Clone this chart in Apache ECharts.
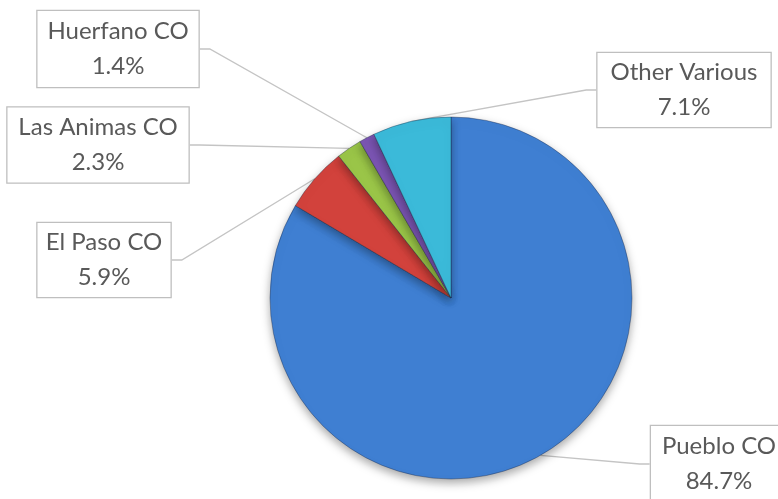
<!DOCTYPE html>
<html><head><meta charset="utf-8">
<script src="https://cdn.jsdelivr.net/npm/echarts@6/dist/echarts.min.js"></script>
<style>html,body{margin:0;padding:0;background:#fff}#c{width:778px;height:499px}</style>
</head><body><div id="c"></div>
<script>
const categories = ['Pueblo CO', 'El Paso CO', 'Las Animas CO', 'Huerfano CO', 'Other Various'];
const values = [84.7, 5.9, 2.3, 1.4, 7.1];
const colors = ['#3f7fd2', '#d2423c', '#9ac548', '#7b55b3', '#3bbad9'];
// label box placement (center x, center y, width, height)
const boxes = [[719, 464, 138, 78], [104, 260, 135, 76], [98, 145, 183, 77], [118, 49, 163, 78], [684, 90, 175, 76]];

const chart = echarts.init(document.getElementById('c'));
chart.setOption({
  animation: false,
  series: [{
    type: 'pie',
    center: [451, 298],
    radius: 181,
    startAngle: 90,
    clockwise: true,
    data: categories.map((n, i) => ({
      name: n, value: values[i],
      itemStyle: { color: colors[i] },
      label: { width: boxes[i][2] - 2, height: boxes[i][3] - 2 }
    })),
    itemStyle: {
      borderColor: 'rgba(20,30,60,0.45)', borderWidth: 0.8,
      shadowBlur: 10, shadowColor: 'rgba(0,0,0,0.35)', shadowOffsetY: 4
    },
    label: {
      show: true,
      position: 'outside',
      formatter: p => p.name + '\n' + p.value.toFixed(1) + '%',
      fontFamily: 'Lato, "Open Sans", sans-serif',
      fontSize: 24,
      lineHeight: 35,
      color: '#595959',
      align: 'center',
      verticalAlign: 'middle',
      backgroundColor: '#fff',
      borderColor: '#bfbfbf',
      borderWidth: 1.3,
      padding: 0
    },
    labelLine: { show: true, length: 10, length2: 10, lineStyle: { color: '#c4c4c4', width: 1.3 } },
    labelLayout: p => {
      const b = boxes[p.dataIndex];
      return { x: b[0], y: b[1], align: 'center', verticalAlign: 'middle' };
    }
  }]
});
</script></body></html>
